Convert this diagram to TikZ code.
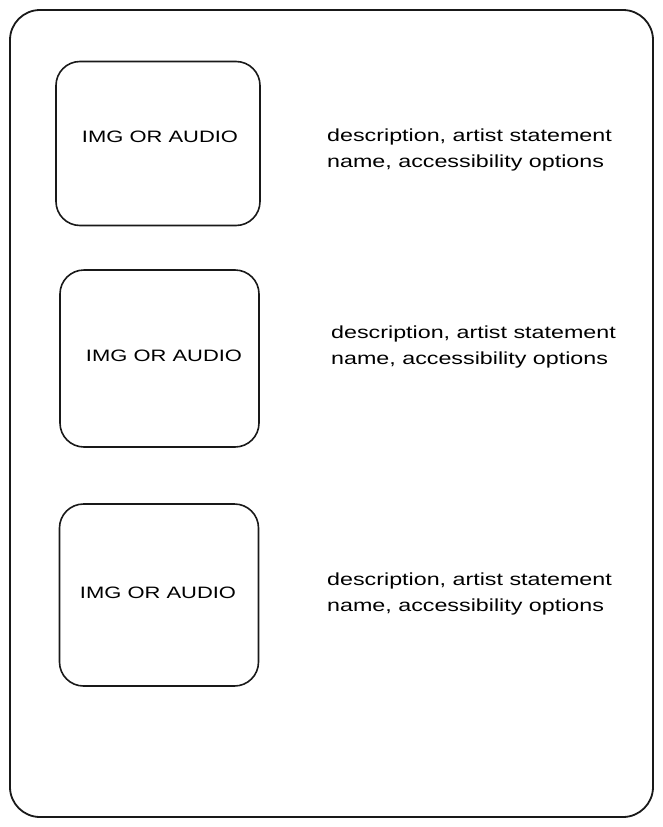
\documentclass[tikz,border=0pt]{standalone}
\usepackage{fontspec}
\setmainfont[FakeStretch=1.33]{Liberation Sans}
\begin{document}
\begin{tikzpicture}[x=1pt,y=-1pt,
  frame/.style={draw=black!90,line width=1.8pt,rounded corners=30pt},
  mediabox/.style={draw=black!90,line width=1.6pt,rounded corners=24pt,inner sep=0pt},
  mediatext/.style={font=\fontsize{16.5}{18}\selectfont},
  desctext/.style={font=\fontsize{17.5}{26}\selectfont,align=left,anchor=west,inner sep=0pt}]
  \useasboundingbox (0,0) rectangle (663,827);
  \draw[frame] (10,10) rectangle (653,817);% page frame

  % media boxes
  \node[mediabox,minimum width=204pt,minimum height=164pt] (img1) at (158,143.5) {};
  \node[mediabox,minimum width=199pt,minimum height=177pt] (img2) at (159.5,358.5) {};
  \node[mediabox,minimum width=199pt,minimum height=182pt] (img3) at (159,595) {};

  \node[mediatext] (imglbl1) at (160,137) {IMG OR AUDIO};
  \node[mediatext] (imglbl2) at (164,356) {IMG OR AUDIO};
  \node[mediatext] (imglbl3) at (158,593) {IMG OR AUDIO};

  % descriptions
  \node[desctext] (desc1) at (327,150) {description, artist statement\\name, accessibility options};
  \node[desctext] (desc2) at (331,346.5) {description, artist statement\\name, accessibility options};
  \node[desctext] (desc3) at (327,594) {description, artist statement\\name, accessibility options};
\end{tikzpicture}
\end{document}
